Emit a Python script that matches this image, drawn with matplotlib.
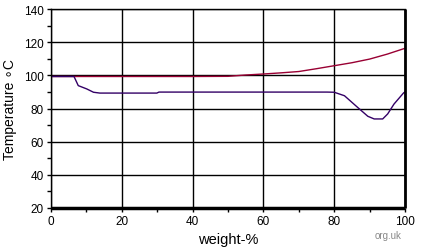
import numpy as np
import matplotlib.pyplot as plt

# Gleichgewichtskurven
w_vap = [0, 10, 20, 30, 40, 50, 55, 60, 65, 70, 75, 80, 85, 90, 95, 100]
T_vap = [99.3, 99.3, 99.3, 99.3, 99.3, 99.4, 100.2, 100.8, 101.5, 102.3, 104.0, 105.8, 107.6, 109.8, 112.8, 116.3]

w_liq = [0, 6.5, 7.7, 10.1, 12, 13.8, 20, 29.9, 30.5, 40, 50, 60, 70, 78, 80, 82.9, 86.6, 89.5, 91.3, 93.7, 95.1, 96.9, 99.6, 100]
T_liq = [99.3, 99.3, 93.8, 91.8, 89.8, 89.3, 89.3, 89.3, 89.9, 89.9, 89.9, 89.9, 89.9, 89.9, 89.8, 87.7, 80.7, 75.3, 73.7, 73.7, 76.7, 82.7, 89.4, 90.0]

plt.rcParams['font.family'] = ['Liberation Sans', 'DejaVu Sans']

fig = plt.figure(figsize=(4.22, 2.51), dpi=100)
ax = fig.add_axes([51/422, 42/251, 354/422, 199/251])

ax.plot(w_vap, T_vap, color="#990033", lw=1)
ax.plot(w_liq, T_liq, color="#330066", lw=1)

ax.set_xlim(0, 100)
ax.set_ylim(20, 140)
ax.set_xticks(np.arange(0, 101, 20))
ax.set_yticks(np.arange(20, 141, 20))
ax.set_xticks(np.arange(10, 100, 20), minor=True)
ax.set_yticks(np.arange(30, 140, 20), minor=True)
ax.tick_params(labelsize=8.5, length=3, width=1, color="black", pad=2)
ax.tick_params(which="minor", length=3, width=1)
ax.grid(True, color="black", lw=1)

ax.spines["top"].set_linewidth(1)
ax.spines["left"].set_linewidth(1)
ax.spines["right"].set_linewidth(2)
ax.spines["right"].set_capstyle("butt")
ax.spines["bottom"].set_linewidth(2.5)
ax.spines["bottom"].set_capstyle("butt")

ax.set_xlabel("weight-%", fontsize=10.5, labelpad=4)
ax.set_ylabel("Temperature ∘C", fontsize=10, labelpad=5)
fig.text(0.92, 0.048, "org.uk", fontsize=7, color="#888888", ha="center")

fig.savefig("out.png", dpi=100)
